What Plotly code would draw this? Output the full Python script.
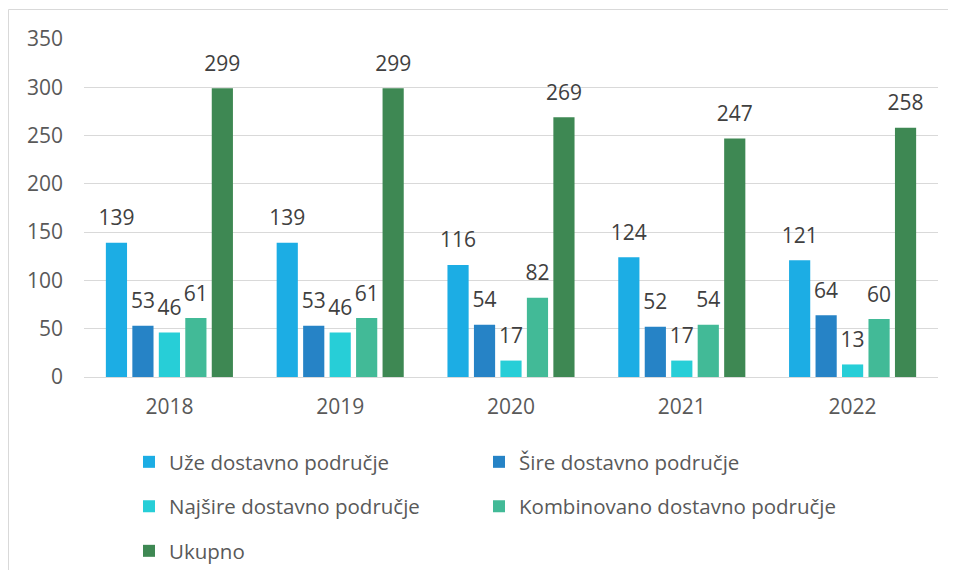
import plotly.graph_objects as go

years = ["2018", "2019", "2020", "2021", "2022"]
series_names = [
    "Uže dostavno područje",
    "Šire dostavno područje",
    "Najšire dostavno područje",
    "Kombinovano dostavno područje",
    "Ukupno",
]
uze = [139, 139, 116, 124, 121]
sire = [53, 53, 54, 52, 64]
najsire = [46, 46, 17, 17, 13]
kombinovano = [61, 61, 82, 54, 60]
ukupno = [299, 299, 269, 247, 258]
series_values = [uze, sire, najsire, kombinovano, ukupno]
colors = ["#1CADE4", "#2683C6", "#27CED7", "#42BA97", "#3E8853"]

FONT = "Open Sans, Segoe UI, Noto Sans, sans-serif"
TXT = "#595959"
LBL = "#404040"
GRID = "#D9D9D9"

# page body has an 8px margin; the figure is sized to fit the 956x578 window
OFF = 8
W, H = 956 - 2 * OFF, 578 - 2 * OFF
PLOT_L, PLOT_R, PLOT_T, PLOT_B = 84, 938, 39, 377  # in window pixels
L = PLOT_L - OFF
T = PLOT_T - OFF
R = W - (PLOT_R - OFF)
B = H - (PLOT_B - OFF)
PW, PH = W - L - R, H - T - B


def px_x(px):
    return (px - OFF - L) / PW


def px_y(py):
    return (H - B - (py - OFF)) / PH


fig = go.Figure()
legend_ids = ["legend", "legend2", "legend3", "legend4", "legend5"]
for i, (name, vals, col) in enumerate(zip(series_names, series_values, colors)):
    fig.add_trace(go.Bar(
        x=years, y=vals, name=name, marker=dict(color=col, line=dict(width=0)),
        offsetgroup=str(i), legend=legend_ids[i], hoverinfo="skip",
    ))
for i, vals in enumerate(series_values):
    fig.add_trace(go.Scatter(
        x=years, y=vals, mode="markers+text", text=[str(v) for v in vals],
        textposition="top center", offsetgroup=str(i), showlegend=False,
        marker=dict(size=18, color="rgba(0,0,0,0)"), cliponaxis=False,
        textfont=dict(family=FONT, size=21, color=LBL), hoverinfo="skip",
    ))

leg_pos = [(129, 462), (479, 462), (129, 506.5), (479, 506.5), (129, 551)]
layout_legends = {}
for lid, (lx, ly) in zip(legend_ids, leg_pos):
    layout_legends[lid] = dict(
        x=px_x(lx), y=px_y(ly), xanchor="left", yanchor="middle",
        font=dict(family=FONT, size=20.5, color=TXT), bgcolor="rgba(0,0,0,0)",
        borderwidth=0,
    )

fig.update_layout(
    width=W, height=H,
    margin=dict(l=L, r=R, t=T, b=B, autoexpand=False),
    paper_bgcolor="white", plot_bgcolor="white",
    barmode="group", bargap=0.225, bargroupgap=0.2,
    scattermode="group", scattergap=0.225,
    font=dict(family=FONT, color=TXT),
    showlegend=True,
    **layout_legends,
    xaxis=dict(type="category", showgrid=False, showline=True, linecolor=GRID,
               linewidth=1, ticks="", tickfont=dict(family=FONT, size=21, color=TXT),
               ticklabelstandoff=11, zeroline=False, automargin=False),
    yaxis=dict(range=[0, 350], dtick=50, showgrid=True, gridcolor=GRID, gridwidth=1,
               zeroline=False, showline=False, ticks="", automargin=False,
               tickfont=dict(family=FONT, size=21, color=TXT), ticklabelstandoff=20),
    shapes=[dict(type="rect", xref="paper", yref="paper",
                 x0=px_x(8.5), x1=1.2, y0=-1.0, y1=px_y(9.5),
                 line=dict(color=GRID, width=1), fillcolor="rgba(0,0,0,0)", layer="below")],
)

fig.write_html("out.html")
